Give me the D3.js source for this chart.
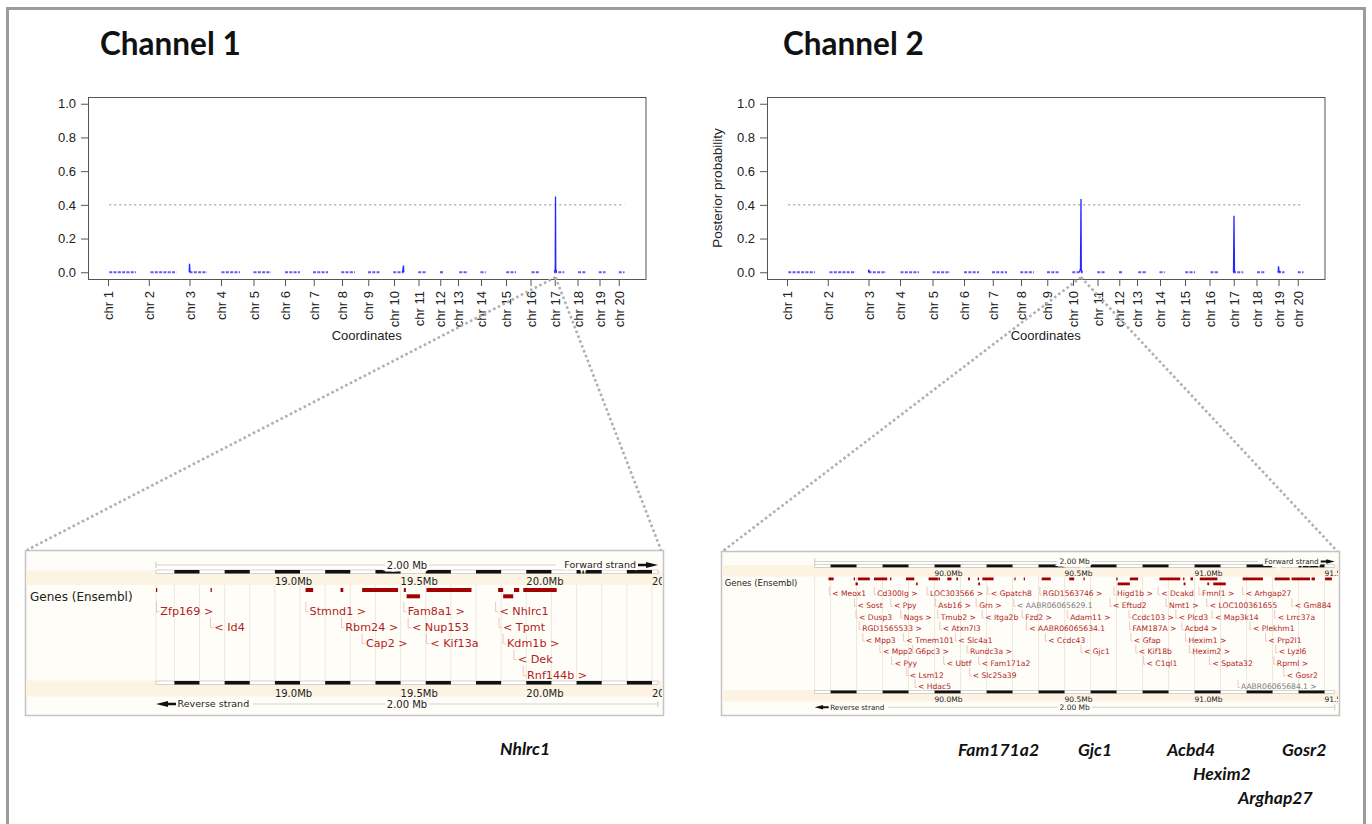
<!DOCTYPE html>
<html>
<head>
<meta charset="utf-8">
<title>Posterior probability scans by channel</title>
<script src="https://cdn.jsdelivr.net/npm/d3@7/dist/d3.min.js"></script>
<style>
  html, body { margin: 0; padding: 0; background: #fff; }
  svg { display: block; }
  .axis text { font-family: "Liberation Sans", Arial, sans-serif; font-size: 13px; fill: #222; }
  .axis line { stroke: #555; }
  .axis path { display: none; }
  .browser text { font-family: "DejaVu Sans", sans-serif; }
</style>
</head>
<body>
<svg id="fig" width="1372" height="824"></svg>
<script>
// ---------- genome scan data ----------
// chromosome labels and map position of each chromosome's first marker
const chrLabels = ["chr 1","chr 2","chr 3","chr 4","chr 5","chr 6","chr 7","chr 8","chr 9","chr 10",
                   "chr 11","chr 12","chr 13","chr 14","chr 15","chr 16","chr 17","chr 18","chr 19","chr 20"];
const chrStart = [0,163,326,452,582,708,823,936,1041,1144,1242,1329,1400,1492,1592,1690,1787,1878,1966,2043];

// runs of genotyped markers (start, end); posterior probability is ~0 along them
const markerRuns = [[5,112],[170,274],[326,396],[454,528],[582,652],[708,768],[820,880],[933,988],
                    [1040,1086],[1141,1183],[1241,1274],[1328,1344],[1405,1440],[1490,1511],[1593,1632],
                    [1694,1727],[1784,1825],[1880,1912],[1963,1990],[2043,2066]];

// non-zero stretches of the posterior curve: [map position, posterior probability]
const ch1Peaks = [
  [[325,0],[326,0.05],[328,0]],
  [[1178,0],[1182,0.04],[1183,0]],
  [[1786,0],[1789,0.02],[1790,0.45],[1791,0.02],[1794,0]]
];
const ch2Peaks = [
  [[326,0],[327,0.015],[330,0]],
  [[1170,0],[1174,0.02],[1176,0.435],[1177,0.02],[1180,0]],
  [[1786,0],[1788,0.335],[1790,0]],
  [[1965,0],[1966,0.035],[1968,0.005],[1975,0]]
];
const probTicks = [0, 0.2, 0.4, 0.6, 0.8, 1.0];
const threshold = 0.4;

// ---------- Ensembl region views ----------
// channel 1: chr17 window (Mb)
const ch1Region = [18.527, 20.524];
const ch1GeneBars = [[18.527,18.531,0],[18.744,18.749,0],[19.122,19.152,0],[19.261,19.272,0],
  [19.347,19.490,0],[19.513,19.521,0],[19.524,19.577,1],[19.603,19.782,0],[19.888,19.908,0],
  [19.908,19.948,1],[19.951,19.972,0],[19.988,20.121,0]];
const ch1GeneLabels = [["Zfp169 >",18.529,0],["< Id4",18.744,1],["Stmnd1 >",19.123,0],
  ["Rbm24 >",19.265,1],["Cap2 >",19.347,2],["Fam8a1 >",19.513,0],["< Nup153",19.530,1],
  ["< Kif13a",19.603,2],["< Nhlrc1",19.878,0],["< Tpmt",19.892,1],["Kdm1b >",19.908,2],
  ["< Dek",19.951,3],["Rnf144b >",19.988,4]];

// channel 2: chr10 window (Mb)
const ch2Region = [89.539, 91.539];
const ch2GeneBars = [
  [89.592,89.612,0],[89.689,89.694,0],[89.705,89.751,0],[89.767,89.818,0],[89.829,89.834,0],
  [89.890,89.922,0],[89.977,90.013,0],[90.015,90.021,0],[90.049,90.065,0],[90.084,90.090,0],
  [90.129,90.136,0],[90.166,90.171,0],[90.184,90.227,0],[90.307,90.310,0],[90.343,90.346,0],
  [90.412,90.447,0],[90.518,90.537,0],[90.573,90.576,0],[90.699,90.704,0],[90.751,90.783,0],
  [90.865,90.945,0],[90.956,90.961,0],[90.984,90.994,0],[91.020,91.088,0],[91.185,91.263,0],
  [91.308,91.366,0],[91.373,91.444,0],[91.450,91.463,0],[91.502,91.528,0],
  [89.696,89.705,1],[89.929,89.935,1],[90.168,90.175,1],[90.704,90.751,1],[90.958,90.965,1],
  [91.049,91.056,1],[91.072,91.120,1]];
const ch2GeneLabels = [
  ["< Meox1",89.595,0],["Cd300lg >",89.768,0],["LOC303566 >",89.971,0],["< Gpatch8",90.205,0],
  ["RGD1563746 >",90.405,0],["Higd1b >",90.690,0],["< Dcakd",90.860,0],["Fmnl1 >",91.017,0],
  ["< Arhgap27",91.185,0],
  ["< Sost",89.692,1],["< Ppy",89.832,1],["Asb16 >",90.003,1],["Grn >",90.160,1],
  ["< AABR06065629.1",90.305,1,"novel"],["< Eftud2",90.675,1],["Nmt1 >",90.890,1],
  ["< LOC100361655",91.047,1],["< Gm884",91.374,1],
  ["< Dusp3",89.698,2],["Nags >",89.870,2],["Tmub2 >",90.012,2],["< Itga2b",90.183,2],
  ["Fzd2 >",90.337,2],["Adam11 >",90.510,2],["Ccdc103 >",90.748,2],["< Plcd3",90.928,2],
  ["< Map3k14",91.067,2],["< Lrrc37a",91.308,2],
  ["RGD1565533 >",89.710,3],["< Atxn7l3",90.020,3],["< AABR06065634.1",90.353,3],
  ["FAM187A >",90.750,3],["Acbd4 >",90.951,3],["< Plekhm1",91.213,3],
  ["< Mpp3",89.724,4],["< Tmem101",89.880,4],["< Slc4a1",90.080,4],["< Ccdc43",90.426,4],
  ["< Gfap",90.755,4],["Hexim1 >",90.965,4],["< Prp2l1",91.273,4],
  ["< Mpp2",89.790,5],["G6pc3 >",89.915,5],["Rundc3a >",90.125,5],["< Gjc1",90.563,5],
  ["< Kif18b",90.774,5],["Hexim2 >",90.980,5],["< Lyzl6",91.312,5],
  ["< Pyy",89.835,6],["< Ubtf",90.035,6],["< Fam171a2",90.170,6],["< C1ql1",90.804,6],
  ["< Spata32",91.057,6],["Rprml >",91.305,6],
  ["< Lsm12",89.893,7],["< Slc25a39",90.135,7],["< Gosr2",91.343,7],
  ["< Hdac5",89.925,8],["AABR06065684.1 >",91.167,8,"novel"]];

// candidate genes named under each region view
const ch1Candidates = ["Nhlrc1"];
const ch2Candidates = ["Fam171a2","Gjc1","Acbd4","Gosr2","Hexim2","Arghap27"];

// ---------- drawing ----------
const fig = d3.select("#fig");

// outer frame
fig.append("rect").attr("x", 7.5).attr("y", 8.5).attr("width", 1357).attr("height", 900)
  .attr("fill", "none").attr("stroke", "#9c9c9c").attr("stroke-width", 3);

// panel titles
[["Channel 1", 100], ["Channel 2", 783]].forEach(([t, x]) => {
  fig.append("text").attr("x", x).attr("y", 55).text(t)
    .attr("font-family", "Lato, 'Open Sans', sans-serif").attr("font-weight", 700)
    .attr("font-size", 31.5).attr("fill", "#111");
});

const plotTop = 97, plotBottom = 279, plotWidth = 557.5;

function drawScan(ox, peaks, yTitle) {
  const x = d3.scaleLinear().domain([-80, 2150]).range([ox, ox + plotWidth]);
  const y = d3.scaleLinear().domain([-0.04, 1.04]).range([plotBottom, plotTop]);
  const g = fig.append("g");

  // threshold line
  g.append("line")
    .attr("x1", x(markerRuns[0][0])).attr("x2", x(markerRuns[markerRuns.length - 1][1]))
    .attr("y1", y(threshold)).attr("y2", y(threshold))
    .attr("stroke", "#8a8a8a").attr("stroke-width", 1).attr("stroke-dasharray", "2 3");

  // marker runs at zero
  g.selectAll(".run").data(markerRuns).join("line")
    .attr("x1", d => x(d[0])).attr("x2", d => x(d[1]))
    .attr("y1", y(0)).attr("y2", y(0))
    .attr("stroke", "#5c5cff").attr("stroke-width", 2.2).attr("stroke-dasharray", "3 1.3");

  // posterior peaks
  const line = d3.line().x(d => x(d[0])).y(d => y(d[1]));
  g.selectAll(".peak").data(peaks).join("path")
    .attr("d", line).attr("fill", "none")
    .attr("stroke", "#2525ff").attr("stroke-width", 1.3);

  // plot box
  g.append("rect").attr("x", ox + 0.5).attr("y", plotTop + 0.5)
    .attr("width", plotWidth).attr("height", plotBottom - plotTop)
    .attr("fill", "none").attr("stroke", "#555").attr("stroke-width", 1);

  // y axis
  g.append("g").attr("class", "axis").attr("transform", `translate(${ox},0)`)
    .call(d3.axisLeft(y).tickValues(probTicks).tickFormat(d3.format(".1f")).tickSize(7).tickPadding(5));

  // chromosome axis
  const gx = g.append("g").attr("class", "axis").attr("transform", `translate(0,${plotBottom})`)
    .call(d3.axisBottom(x).tickValues(chrStart).tickFormat((d, i) => chrLabels[i]).tickSize(7));
  gx.selectAll("text")
    .attr("transform", "rotate(-90)").attr("text-anchor", "end")
    .attr("x", -12).attr("y", 0).attr("dy", "0.35em");

  g.append("text").attr("class", "axis-title")
    .attr("x", ox + plotWidth / 2).attr("y", 340).attr("text-anchor", "middle")
    .attr("font-family", "'Liberation Sans', Arial, sans-serif").attr("font-size", 13).attr("fill", "#222")
    .text("Coordinates");

  if (yTitle) {
    g.append("text")
      .attr("transform", `translate(${ox - 50},${(plotTop + plotBottom) / 2}) rotate(-90)`)
      .attr("text-anchor", "middle").attr("dy", "0.35em")
      .attr("font-family", "'Liberation Sans', Arial, sans-serif").attr("font-size", 13.5).attr("fill", "#222")
      .text(yTitle);
  }
  return { x, y };
}

const scan1 = drawScan(88, ch1Peaks, null);
const scan2 = drawScan(767, ch2Peaks, "Posterior probability");

// Ensembl-style region view
function drawBrowser(L, region, bars, labels) {
  const g = fig.append("g").attr("class", "browser");
  const x = d3.scaleLinear().domain(region).range([L.tx0, L.tx1]);
  const clipId = "clip-" + L.id;
  g.append("clipPath").attr("id", clipId).append("rect")
    .attr("x", L.px0 + 1).attr("y", L.py0).attr("width", L.px1 - L.px0 - 2).attr("height", L.py1 - L.py0);

  g.append("rect").attr("x", L.px0 + 0.5).attr("y", L.py0 + 0.5)
    .attr("width", L.px1 - L.px0).attr("height", L.py1 - L.py0)
    .attr("fill", "#fffdf8").attr("stroke", "#c4c4c4").attr("stroke-width", 1.5);

  const c = g.append("g").attr("clip-path", `url(#${clipId})`);

  // ruler bands
  [L.band1, L.band2].forEach(b => c.append("rect")
    .attr("x", L.px0).attr("width", L.px1 - L.px0).attr("y", b[0]).attr("height", b[1] - b[0])
    .attr("fill", "#fcf3e2"));

  // 100 kb divisions
  const t0 = Math.ceil(region[0] * 10 - 1e-9), t1 = Math.floor(region[1] * 10 + 1e-9);
  const tenths = d3.range(t0, t1 + 1);
  c.selectAll(".grid").data(tenths).join("line")
    .attr("x1", t => x(t / 10)).attr("x2", t => x(t / 10))
    .attr("y1", L.band1[1]).attr("y2", L.band2[0])
    .attr("stroke", "#eee8dc").attr("stroke-width", 1);
  c.append("line").attr("x1", L.tx0).attr("x2", L.tx0).attr("y1", L.band1[1]).attr("y2", L.band2[0])
    .attr("stroke", "#eee8dc");

  const segs = d3.range(t0 - 1, t1 + 1).filter(t => t % 2 === 0)
    .map(t => [Math.max(t / 10, region[0]), Math.min((t + 1) / 10, region[1])])
    .filter(s => s[1] > s[0]);
  [L.bar1, L.bar2].forEach(by => {
    c.append("rect").attr("x", L.tx0).attr("y", by).attr("width", L.tx1 - L.tx0).attr("height", L.barH)
      .attr("fill", "#fff").attr("stroke", "#b8b8b8").attr("stroke-width", 0.6);
    c.selectAll(null).data(segs).join("rect")
      .attr("x", s => x(s[0])).attr("width", s => x(s[1]) - x(s[0]))
      .attr("y", by).attr("height", L.barH).attr("fill", "#111");
  });

  const majors = tenths.filter(t => t % 5 === 0);
  [L.lab1, L.lab2].forEach(ly => c.selectAll(null).data(majors).join("text")
    .attr("x", t => x(t / 10)).attr("y", ly).attr("dy", "0.35em")
    .attr("font-size", L.rulerFont).attr("fill", "#222")
    .text(t => (t / 10).toFixed(1) + "Mb"));

  // span label lines
  const span = d3.format(".2f")(region[1] - region[0]) + " Mb";
  const mid = (L.tx0 + L.tx1) / 2;
  c.append("line").attr("x1", L.tx0).attr("x2", L.scaleEnd).attr("y1", L.scaleY).attr("y2", L.scaleY)
    .attr("stroke", "#c8c8c8").attr("stroke-width", 0.8);
  c.append("line").attr("x1", L.tx0).attr("x2", L.tx0).attr("y1", L.scaleY - 3).attr("y2", L.scaleY + 3)
    .attr("stroke", "#bbb").attr("stroke-width", 0.8);
  c.append("text").attr("x", mid).attr("y", L.scaleY).attr("dy", "0.35em").attr("text-anchor", "middle")
    .attr("font-size", L.rulerFont).attr("fill", "#222")
    .attr("stroke", "#fffdf8").attr("stroke-width", 5).attr("paint-order", "stroke").text(span);

  // forward strand marker
  const a0 = L.tx1 - L.arrowLen, ay = L.scaleY;
  c.append("text").attr("x", a0 - 2).attr("y", ay).attr("dy", "0.35em").attr("text-anchor", "end")
    .attr("font-size", L.strandFont).attr("fill", "#222")
    .attr("stroke", "#fffdf8").attr("stroke-width", 4).attr("paint-order", "stroke").text("Forward strand");
  const hw = L.arrowH / 2, neck = a0 + L.arrowLen * 0.4;
  c.append("path").attr("d",
    `M${a0},${ay - hw * 0.45}H${neck}L${L.tx1},${ay}L${neck},${ay + hw * 0.45}H${a0}Z` +
    `M${neck},${ay - hw}L${L.tx1},${ay}L${neck},${ay + hw}Z`).attr("fill", "#111");

  // reverse strand marker
  const ry = L.strandY, r1 = L.tx0 + L.arrowLen, rneck = L.tx0 + L.arrowLen * 0.6;
  c.append("path").attr("d",
    `M${L.tx0},${ry}L${rneck},${ry - hw}V${ry - hw * 0.45}H${r1}V${ry + hw * 0.45}H${rneck}V${ry + hw}Z`)
    .attr("fill", "#111");
  const rt = c.append("text").attr("x", r1 + 1.5).attr("y", ry).attr("dy", "0.35em")
    .attr("font-size", L.strandFont).attr("fill", "#222").text("Reverse strand");
  const rEnd = r1 + 1.5 + rt.node().getComputedTextLength() + 4;
  c.append("line").attr("x1", rEnd).attr("x2", L.tx1).attr("y1", ry).attr("y2", ry)
    .attr("stroke", "#c8c8c8").attr("stroke-width", 0.8);
  c.append("line").attr("x1", L.tx1).attr("x2", L.tx1).attr("y1", ry - 3).attr("y2", ry + 3)
    .attr("stroke", "#bbb").attr("stroke-width", 0.8);
  c.append("text").attr("x", mid).attr("y", ry).attr("dy", "0.35em").attr("text-anchor", "middle")
    .attr("font-size", L.rulerFont).attr("fill", "#222")
    .attr("stroke", "#fffdf8").attr("stroke-width", 5).attr("paint-order", "stroke").text(span);

  // track name
  c.append("text").attr("x", L.headerX).attr("y", L.headerY).attr("dy", "0.35em")
    .attr("font-size", L.headerFont).attr("fill", "#222").text("Genes (Ensembl)");

  // gene bodies
  c.selectAll(".gene").data(bars).join("rect")
    .attr("x", d => x(d[0])).attr("width", d => Math.max(1.2, x(d[1]) - x(d[0])))
    .attr("y", d => L.geneRow[d[2]]).attr("height", L.geneH).attr("fill", "#a30000");

  // gene labels with connectors
  const lab = c.selectAll(".lab").data(labels).join("g");
  lab.append("path")
    .attr("d", d => {
      const cx = x(d[1]), cy = L.labelY0 + d[2] * L.labelStep;
      return `M${cx},${cy - L.connH}V${cy + 1}H${cx + L.connDx - 1}`;
    })
    .attr("fill", "none").attr("stroke", "#e9b9b9").attr("stroke-width", 0.8);
  lab.append("text")
    .attr("x", d => x(d[1]) + L.connDx).attr("y", d => L.labelY0 + d[2] * L.labelStep)
    .attr("dy", "0.35em").attr("font-size", L.labelFont)
    .attr("fill", d => d[3] === "novel" ? "#7c7c7c" : "#b21d1d")
    .text(d => d[0]);
  return x;
}

const view1 = {
  id: "ch1", px0: 25, px1: 663, py0: 550, py1: 715, tx0: 156, tx1: 658,
  scaleY: 565, scaleEnd: 556, bar1: 570, bar2: 681, barH: 3.5,
  band1: [570.5, 585], band2: [680.5, 696.5], lab1: 581, lab2: 693, rulerFont: 10,
  geneRow: [588, 594.3], geneH: 4, labelY0: 610.7, labelStep: 16, labelFont: 11.2,
  connDx: 3.8, connH: 9, headerX: 30, headerY: 596.3, headerFont: 12,
  strandY: 704, strandFont: 9.5, arrowLen: 20, arrowH: 6
};
const view2 = {
  id: "ch2", px0: 721, px1: 1339, py0: 551, py1: 715, tx0: 814.7, tx1: 1334.7,
  scaleY: 561.5, scaleEnd: 1258, bar1: 564.5, bar2: 690.5, barH: 2.8,
  band1: [565, 576.5], band2: [690, 701.5], lab1: 573, lab2: 699, rulerFont: 7.5,
  geneRow: [577.5, 582.5], geneH: 2.8, labelY0: 593.7, labelStep: 11.6, labelFont: 7.6,
  connDx: 3, connH: 7, headerX: 724.7, headerY: 583, headerFont: 8.5,
  strandY: 707.3, strandFont: 7.2, arrowLen: 14, arrowH: 4.5
};

drawBrowser(view1, ch1Region, ch1GeneBars, ch1GeneLabels);
drawBrowser(view2, ch2Region, ch2GeneBars, ch2GeneLabels);

// dotted zoom guides from each peak to its region view
function zoomGuides(scan, pos, L) {
  const sx = scan.x(pos), sy = scan.y(0) + 5;
  [[L.px0 + 2, L.py0], [L.px1 - 2, L.py0]].forEach(([ex, ey]) => {
    fig.append("line").attr("x1", sx).attr("y1", sy).attr("x2", ex).attr("y2", ey)
      .attr("stroke", "#b0b0b0").attr("stroke-width", 2.6).attr("stroke-dasharray", "2.6 2.6");
  });
}
zoomGuides(scan1, 1790, view1);
zoomGuides(scan2, 1176, view2);

// candidate gene names
const candFont = "Lato, 'Open Sans', sans-serif";
const candPos1 = [[500, 755]];
const candPos2 = [[958, 756], [1078, 756], [1167, 756], [1282, 756], [1193, 780], [1238, 804]];
function drawCandidates(names, pos) {
  fig.selectAll(null).data(names).join("text")
    .attr("x", (d, i) => pos[i][0]).attr("y", (d, i) => pos[i][1])
    .attr("font-family", candFont).attr("font-weight", 700).attr("font-style", "italic")
    .attr("font-size", 17.5).attr("fill", "#111").text(d => d);
}
drawCandidates(ch1Candidates, candPos1);
drawCandidates(ch2Candidates, candPos2);
</script>
</body>
</html>
